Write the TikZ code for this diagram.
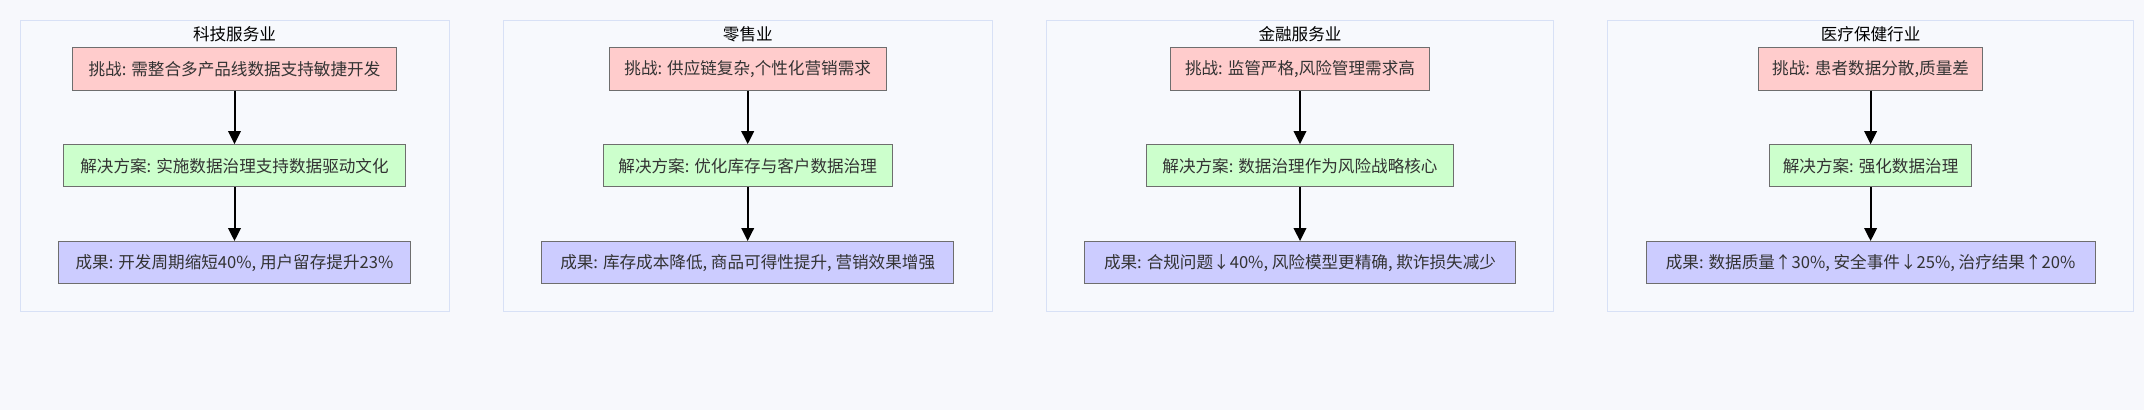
\documentclass[tikz,border=0pt]{standalone}
\usepackage{fontspec}
\setmainfont{Noto Sans CJK SC}
\usetikzlibrary{arrows.meta}
\definecolor{pagebg}{HTML}{F7F8FC}
\definecolor{clfill}{HTML}{F7F9FD}
\definecolor{cldraw}{HTML}{D8E1F6}
\definecolor{chfill}{HTML}{FFCCCC}
\definecolor{sofill}{HTML}{CCFFCC}
\definecolor{refill}{HTML}{CCCCFF}
\definecolor{bxdraw}{HTML}{6E6E6E}
\definecolor{txt}{HTML}{333333}
\tikzset{
  cluster/.style={draw=cldraw, fill=clfill, line width=1pt},
  ttl/.style={font=\fontsize{16.6}{20}\selectfont, text=black, inner sep=0pt},
  bx/.style={draw=bxdraw, line width=1pt, rectangle, minimum height=42.3pt, inner sep=0pt, text=txt, font=\fontsize{16.6}{20}\selectfont},
  chal/.style={bx, fill=chfill},
  solu/.style={bx, fill=sofill},
  resu/.style={bx, fill=refill},
  arr/.style={draw=black, line width=2pt, -{Triangle[length=13pt,width=12.5pt]}}
}
\begin{document}
\begin{tikzpicture}[x=1pt,y=-1pt]
\fill[pagebg] (0,0) rectangle (2144,410);
\useasboundingbox (0,0) rectangle (2144,410);
% clusters
\path[cluster] (20.3,20.7) rectangle (449,311);
\path[cluster] (503.3,20.7) rectangle (992.3,311);
\path[cluster] (1046.3,20.7) rectangle (1553.7,311);
\path[cluster] (1607.7,20.7) rectangle (2133.3,311);
% titles
\node[ttl] (t1) at (234.5,34) {科技服务业};
\node[ttl] (t2) at (747.8,34) {零售业};
\node[ttl] (t3) at (1300,34) {金融服务业};
\node[ttl] (t4) at (1870.6,34) {医疗保健行业};
% cluster 1
\node[chal, minimum width=324.3pt] (c1) at (234.5,68.9) {挑战: 需整合多产品线数据支持敏捷开发};
\node[solu, minimum width=341.7pt] (s1) at (234.5,165.8) {解决方案: 实施数据治理支持数据驱动文化};
\node[resu, minimum width=351.7pt] (r1) at (234.5,262.7) {成果: 开发周期缩短40\%, 用户留存提升23\%};
% cluster 2
\node[chal, minimum width=276.7pt] (c2) at (747.7,68.9) {挑战: 供应链复杂,个性化营销需求};
\node[solu, minimum width=289pt] (s2) at (747.7,165.8) {解决方案: 优化库存与客户数据治理};
\node[resu, minimum width=412pt] (r2) at (747.7,262.7) {成果: 库存成本降低, 商品可得性提升, 营销效果增强};
% cluster 3
\node[chal, minimum width=258.7pt] (c3) at (1300,68.9) {挑战: 监管严格,风险管理需求高};
\node[solu, minimum width=307pt] (s3) at (1300,165.8) {解决方案: 数据治理作为风险战略核心};
\node[resu, minimum width=430.3pt] (r3) at (1300,262.7) {成果: 合规问题↓40\%, 风险模型更精确, 欺诈损失减少};
% cluster 4
\node[chal, minimum width=223.7pt] (c4) at (1870.6,68.9) {挑战: 患者数据分散,质量差};
\node[solu, minimum width=201.7pt] (s4) at (1870.6,165.8) {解决方案: 强化数据治理};
\node[resu, minimum width=449pt] (r4) at (1870.6,262.7) {成果: 数据质量↑30\%, 安全事件↓25\%, 治疗结果↑20\%};
% arrows
\foreach \i in {1,2,3,4}{
  \draw[arr] (c\i.south) -- (s\i.north);
  \draw[arr] (s\i.south) -- (r\i.north);
}
\end{tikzpicture}
\end{document}
